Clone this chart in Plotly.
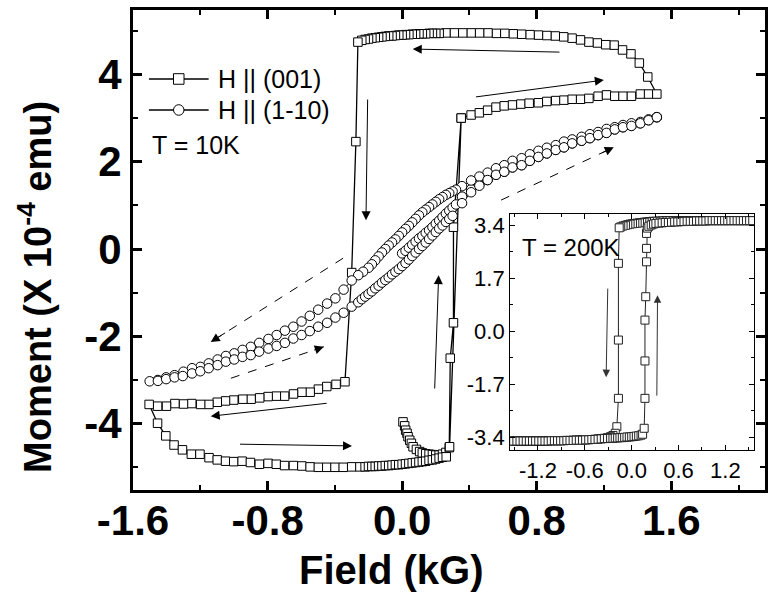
import plotly.graph_objects as go

# ---------------- main panel, T = 10K, H || (001) (squares) ----------------
sq_virgin_x = [0.005, 0.015, 0.021, 0.029, 0.035, 0.045, 0.055, 0.065, 0.085, 0.104, 0.12, 0.14, 0.16, 0.18, 0.20, 0.22, 0.24, 0.26, 0.28, 0.286, 0.305, 0.305]
sq_virgin_y = [-3.96, -4.05, -4.15, -4.22, -4.30, -4.38, -4.45, -4.53, -4.59, -4.64, -4.67, -4.69, -4.70, -4.71, -4.72, -4.72, -4.70, -4.66, -4.55, -2.50, -1.69, 0.50]

sq_mid_up_x = [0.351, 0.410, 0.459, 0.508, 0.558, 0.607, 0.656, 0.706, 0.755, 0.810, 0.860, 0.913, 0.962, 1.011, 1.061, 1.110, 1.165, 1.215, 1.264, 1.313, 1.363, 1.416, 1.465, 1.514]
sq_mid_up_y = [3.00, 3.07, 3.12, 3.18, 3.25, 3.28, 3.30, 3.32, 3.34, 3.35, 3.38, 3.40, 3.41, 3.43, 3.43, 3.45, 3.50, 3.53, 3.50, 3.50, 3.50, 3.55, 3.55, 3.55]

sq_top_x = [1.46, 1.41, 1.36, 1.31, 1.26, 1.21, 1.16, 1.11, 1.06, 1.01, 0.96, 0.91, 0.86, 0.81, 0.76, 0.71, 0.66, 0.61, 0.56, 0.51, 0.46, 0.41, 0.36, 0.31, 0.26,
            0.22, 0.20, 0.18, 0.16, 0.14, 0.12, 0.10, 0.08, 0.06, 0.04, 0.02, 0.00, -0.02, -0.04, -0.06, -0.08, -0.10, -0.12, -0.14, -0.16, -0.18, -0.20, -0.22, -0.24, -0.263]
sq_top_y = [3.94, 4.26, 4.47, 4.56, 4.67, 4.68, 4.72, 4.74, 4.79, 4.83, 4.86, 4.88, 4.89, 4.90, 4.91, 4.92, 4.93, 4.94, 4.94, 4.95, 4.95, 4.95, 4.95, 4.95, 4.95,
            4.94, 4.94, 4.94, 4.94, 4.93, 4.93, 4.93, 4.92, 4.92, 4.91, 4.91, 4.90, 4.90, 4.89, 4.88, 4.88, 4.87, 4.86, 4.85, 4.84, 4.83, 4.81, 4.80, 4.78, 4.74]

sq_down_x = [-0.275, -0.30, -0.34]
sq_down_y = [2.46, -0.54, -3.04]

sq_mid_low_x = [-0.393, -0.448, -0.498, -0.547, -0.596, -0.646, -0.699, -0.748, -0.797, -0.847, -0.898, -0.947, -1.001, -1.050, -1.099, -1.149, -1.198, -1.251, -1.300, -1.351, -1.401, -1.454, -1.504]
sq_mid_low_y = [-3.10, -3.15, -3.21, -3.28, -3.28, -3.32, -3.37, -3.37, -3.38, -3.41, -3.44, -3.44, -3.46, -3.48, -3.51, -3.56, -3.56, -3.54, -3.55, -3.54, -3.60, -3.60, -3.56]

sq_bottom_x = [-1.454, -1.405, -1.356, -1.306, -1.253, -1.202, -1.148, -1.099, -1.050, -1.001, -0.951, -0.902, -0.849, -0.797, -0.748, -0.699, -0.646, -0.596, -0.547, -0.498, -0.448, -0.399, -0.350, -0.300, -0.251,
               -0.22, -0.20, -0.18, -0.16, -0.14, -0.12, -0.10, -0.08, -0.06, -0.04, -0.02, 0.00, 0.02, 0.04, 0.06, 0.08, 0.10, 0.12, 0.14, 0.16, 0.18, 0.20, 0.22, 0.24,
               0.262, 0.282, 0.351]
sq_bottom_y = [-3.99, -4.28, -4.49, -4.60, -4.70, -4.70, -4.78, -4.83, -4.86, -4.87, -4.86, -4.89, -4.93, -4.91, -4.93, -4.96, -4.96, -4.97, -4.99, -5.00, -5.00, -5.00, -5.00, -4.99, -4.99,
               -4.99, -4.98, -4.98, -4.98, -4.97, -4.97, -4.96, -4.96, -4.95, -4.94, -4.94, -4.93, -4.92, -4.91, -4.90, -4.89, -4.88, -4.87, -4.86, -4.84, -4.83, -4.81, -4.79, -4.77,
               -4.76, -4.53, 3.00]

# ---------------- main panel, T = 10K, H || (1-10) (circles) ----------------
ci_virgin_x = [0.00, 0.02, 0.04, 0.06, 0.08, 0.10, 0.12, 0.14, 0.16, 0.18, 0.20, 0.22, 0.24, 0.26, 0.28, 0.30, 0.32, 0.356, 0.410, 0.459]
ci_virgin_y = [-0.10, -0.04, 0.03, 0.10, 0.17, 0.24, 0.30, 0.37, 0.43, 0.50, 0.58, 0.65, 0.73, 0.81, 0.88, 0.95, 1.02, 1.20, 1.37, 1.48]

ci_high_x = [0.508, 0.558, 0.607, 0.656, 0.710, 0.759, 0.810, 0.860, 0.913, 0.962, 1.011, 1.067, 1.116, 1.165, 1.215, 1.264, 1.313, 1.363, 1.416, 1.465, 1.514]
ci_high_y = [1.58, 1.70, 1.77, 1.87, 1.92, 2.02, 2.11, 2.19, 2.27, 2.33, 2.42, 2.48, 2.54, 2.61, 2.66, 2.74, 2.79, 2.82, 2.88, 2.95, 3.02]

ci_desc_x = [1.514, 1.465, 1.416, 1.363, 1.313, 1.264, 1.215, 1.165, 1.116, 1.067, 1.011, 0.962, 0.913, 0.860, 0.810, 0.759, 0.710, 0.656, 0.607, 0.558, 0.508, 0.459, 0.410, 0.356,
             0.32, 0.30, 0.28, 0.26, 0.24, 0.22, 0.20, 0.18, 0.16, 0.14, 0.12, 0.10, 0.08, 0.06, 0.04, 0.02, 0.00, -0.02, -0.04, -0.06, -0.08, -0.10, -0.12, -0.14, -0.16, -0.18, -0.20,
             -0.232, -0.261, -0.300, -0.348, -0.397, -0.446, -0.499, -0.549, -0.598, -0.647, -0.697, -0.746, -0.795, -0.850, -0.900, -0.949, -0.998, -1.048, -1.097, -1.150, -1.200, -1.249, -1.300, -1.353, -1.403, -1.452, -1.501]
ci_desc_y = [3.02, 2.97, 2.91, 2.88, 2.84, 2.79, 2.75, 2.68, 2.63, 2.57, 2.51, 2.46, 2.38, 2.32, 2.25, 2.17, 2.08, 2.02, 1.92, 1.85, 1.75, 1.66, 1.57, 1.44,
             1.36, 1.32, 1.28, 1.24, 1.19, 1.14, 1.08, 1.02, 0.96, 0.90, 0.84, 0.77, 0.69, 0.61, 0.53, 0.46, 0.38, 0.30, 0.22, 0.15, 0.08, 0.00, -0.08, -0.17, -0.26, -0.35, -0.43,
             -0.52, -0.60, -0.72, -0.93, -1.13, -1.25, -1.39, -1.53, -1.66, -1.78, -1.87, -1.97, -2.06, -2.15, -2.24, -2.31, -2.39, -2.45, -2.53, -2.62, -2.70, -2.73, -2.81, -2.89, -2.94, -3.00, -3.03]

ci_asc_x = [-1.452, -1.403, -1.353, -1.304, -1.249, -1.200, -1.150, -1.097, -1.048, -0.998, -0.949, -0.900, -0.850, -0.795, -0.746, -0.697, -0.647, -0.598, -0.549, -0.499, -0.446, -0.397, -0.348, -0.300, -0.261,
            -0.24, -0.22, -0.20, -0.18, -0.16, -0.14, -0.12, -0.10, -0.08, -0.06, -0.04, -0.02, 0.00, 0.02, 0.04, 0.06, 0.08, 0.10, 0.12, 0.14, 0.16, 0.18, 0.20, 0.22, 0.24, 0.26, 0.28,
            0.30, 0.356, 0.410, 0.459]
ci_asc_y = [-3.02, -2.98, -2.94, -2.91, -2.85, -2.80, -2.73, -2.66, -2.58, -2.53, -2.47, -2.43, -2.35, -2.28, -2.22, -2.15, -2.05, -1.97, -1.88, -1.78, -1.69, -1.57, -1.46, -1.32, -1.22,
            -1.15, -1.09, -1.03, -0.97, -0.90, -0.84, -0.77, -0.71, -0.65, -0.58, -0.52, -0.46, -0.39, -0.32, -0.24, -0.16, -0.08, 0.00, 0.07, 0.15, 0.23, 0.31, 0.39, 0.47, 0.54, 0.62, 0.69,
            0.76, 1.05, 1.30, 1.45]

# ---------------- inset, T = 200K ----------------
ins_desc_x = [1.55, 1.51, 1.47, 1.43, 1.39, 1.35, 1.31, 1.27, 1.23, 1.19, 1.15, 1.11, 1.07, 1.03, 0.99, 0.95, 0.91, 0.87, 0.83, 0.79, 0.75, 0.71, 0.67, 0.63, 0.59, 0.55, 0.51, 0.47, 0.43,
              0.39, 0.35, 0.31, 0.27, 0.23, 0.19,
              0.16, 0.13, 0.10, 0.07, 0.04, 0.01, -0.02, -0.05, -0.08, -0.11, -0.14,
              -0.16, -0.17, -0.17, -0.17, -0.19,
              -0.21, -0.24, -0.27,
              -0.31, -0.35, -0.39, -0.43, -0.47, -0.51, -0.55, -0.59, -0.63, -0.67, -0.71, -0.75, -0.79, -0.83, -0.87, -0.91, -0.95, -0.99, -1.03, -1.07, -1.11, -1.15, -1.19, -1.23, -1.27, -1.31, -1.35, -1.39, -1.43, -1.47, -1.51, -1.55]
ins_desc_y = [3.54, 3.54, 3.54, 3.54, 3.54, 3.54, 3.54, 3.54, 3.54, 3.54, 3.54, 3.54, 3.54, 3.54, 3.54, 3.54, 3.54, 3.54, 3.54, 3.54, 3.54, 3.54, 3.54, 3.54, 3.54, 3.54, 3.54, 3.54, 3.54,
              3.53, 3.53, 3.52, 3.52, 3.51, 3.50,
              3.49, 3.48, 3.47, 3.46, 3.45, 3.44, 3.43, 3.41, 3.39, 3.37, 3.34,
              3.31, 2.17, -0.29, -2.16, -3.07,
              -3.28, -3.35, -3.39,
              -3.42, -3.44, -3.45, -3.46, -3.47, -3.48, -3.48, -3.49, -3.49, -3.50, -3.50, -3.50, -3.51, -3.51, -3.51, -3.52, -3.52, -3.52, -3.52, -3.52, -3.53, -3.53, -3.53, -3.53, -3.53, -3.53, -3.53, -3.53, -3.53, -3.53, -3.53, -3.53]

ins_asc_x = [-1.55, -1.51, -1.47, -1.43, -1.39, -1.35, -1.31, -1.27, -1.23, -1.19, -1.15, -1.11, -1.07, -1.03, -0.99, -0.95, -0.91, -0.87, -0.83, -0.79, -0.75, -0.71, -0.67, -0.63, -0.59, -0.55, -0.51, -0.47, -0.43, -0.39, -0.35, -0.31, -0.27,
             -0.24, -0.21, -0.18, -0.15, -0.12, -0.09, -0.06, -0.03, 0.00, 0.03, 0.06, 0.09, 0.12, 0.14,
             0.16, 0.17, 0.17, 0.17, 0.18, 0.19, 0.19, 0.19, 0.20,
             0.22, 0.25, 0.28,
             0.31, 0.35, 0.39, 0.43, 0.47, 0.51, 0.55, 0.59, 0.63, 0.67, 0.71, 0.75, 0.79, 0.83, 0.87, 0.91, 0.95, 0.99, 1.03, 1.07, 1.11, 1.15, 1.19, 1.23, 1.27, 1.31, 1.35, 1.39, 1.43, 1.47, 1.51, 1.55]
ins_asc_y = [-3.53, -3.53, -3.53, -3.53, -3.53, -3.53, -3.53, -3.53, -3.53, -3.53, -3.53, -3.53, -3.53, -3.52, -3.52, -3.52, -3.52, -3.52, -3.51, -3.51, -3.51, -3.50, -3.50, -3.50, -3.49, -3.49, -3.48, -3.48, -3.47, -3.46, -3.45, -3.45, -3.44,
             -3.44, -3.43, -3.43, -3.42, -3.42, -3.41, -3.40, -3.40, -3.39, -3.38, -3.37, -3.36, -3.34, -3.31,
             -3.12, -2.16, -0.96, 0.35, 1.10, 2.22, 2.65, 3.13, 3.30,
             3.36, 3.40, 3.43,
             3.45, 3.46, 3.47, 3.48, 3.48, 3.49, 3.50, 3.50, 3.51, 3.51, 3.52, 3.52, 3.52, 3.53, 3.53, 3.53, 3.53, 3.54, 3.54, 3.54, 3.54, 3.54, 3.54, 3.54, 3.54, 3.54, 3.54, 3.54, 3.54, 3.54, 3.54, 3.54]

# ---------------- ticks ----------------
x_tick_vals = [-1.6, -0.8, 0.0, 0.8, 1.6]
x_tick_text = ["-1.6", "-0.8", "0.0", "0.8", "1.6"]
x_minor_vals = [-1.2, -0.4, 0.4, 1.2, 2.0]
y_tick_vals = [-4, -2, 0, 2, 4]
y_tick_text = ["-4", "-2", "0", "2", "4"]
y_minor_vals = [-5, -3, -1, 1, 3, 5]
ins_x_tick_vals = [-1.2, -0.6, 0.0, 0.6, 1.2]
ins_x_tick_text = ["-1.2", "-0.6", "0.0", "0.6", "1.2"]
ins_x_minor_vals = [-1.5, -0.9, -0.3, 0.3, 0.9, 1.5]
ins_y_tick_vals = [-3.4, -1.7, 0.0, 1.7, 3.4]
ins_y_tick_text = ["-3.4", "-1.7", "0.0", "1.7", "3.4"]
ins_y_minor_vals = [-2.55, -0.85, 0.85, 2.55]

# arrows: (tail_x, tail_y, head_x, head_y)
solid_arrows = [
    (0.944, 4.51, 0.063, 4.58),
    (0.43, 3.48, 1.199, 3.87),
    (-0.205, 3.46, -0.215, 0.66),
    (0.193, -3.23, 0.217, -0.60),
    (-0.44, -3.53, -1.138, -3.83),
    (-0.973, -4.47, -0.298, -4.51),
]
dashed_arrows = [
    (-0.351, -0.21, -1.138, -2.13),
    (-1.018, -2.96, -0.466, -2.24),
    (0.588, 1.12, 1.258, 2.33),
]
inset_arrows = [
    (-0.306, 1.41, -0.327, -1.48),
    (0.322, -2.12, 0.331, 1.15),
]

FONT = "Liberation Sans, Arial, sans-serif"

sq_x = sq_virgin_x + sq_mid_up_x + sq_top_x + sq_down_x + sq_mid_low_x + sq_bottom_x
sq_y = sq_virgin_y + sq_mid_up_y + sq_top_y + sq_down_y + sq_mid_low_y + sq_bottom_y
ci_x = ci_virgin_x + ci_high_x + ci_desc_x + ci_asc_x + ci_high_x
ci_y = ci_virgin_y + ci_high_y + ci_desc_y + ci_asc_y + ci_high_y
ins_x = ins_desc_x + ins_asc_x
ins_y = ins_desc_y + ins_asc_y

fig = go.Figure()
fig.add_trace(go.Scatter(
    x=sq_x, y=sq_y, mode="lines+markers", name="H || (001)",
    line=dict(color="black", width=1.3),
    marker=dict(symbol="square", size=8.5, color="white", line=dict(color="black", width=1)),
))
fig.add_trace(go.Scatter(
    x=ci_x, y=ci_y, mode="lines+markers", name="H || (1-10)",
    line=dict(color="black", width=1),
    marker=dict(symbol="circle", size=9.5, color="white", line=dict(color="black", width=1)),
))
fig.add_trace(go.Scatter(
    x=ins_x, y=ins_y, mode="lines+markers", name="T = 200K", xaxis="x2", yaxis="y2",
    line=dict(color="#222", width=1),
    marker=dict(symbol="square", size=8, color="white", line=dict(color="#222", width=1)),
))

main_tickfont = dict(family=FONT, size=42, color="black", weight="bold")
fig.update_layout(
    width=768, height=594,
    margin=dict(l=133, r=0, t=10, b=104),
    plot_bgcolor="white", paper_bgcolor="white",
    showlegend=False,
    xaxis=dict(
        range=[-1.6, 2.157], tickmode="array", tickvals=x_tick_vals, ticktext=x_tick_text,
        ticks="inside", ticklen=9, tickwidth=2.5, tickcolor="black", ticklabelstandoff=-8,
        showline=True, linewidth=3, linecolor="black", mirror="ticks",
        showgrid=False, zeroline=False, tickfont=main_tickfont,
        minor=dict(tickmode="array", tickvals=x_minor_vals, ticks="inside", ticklen=5, tickwidth=2, tickcolor="black", showgrid=False),
    ),
    yaxis=dict(
        range=[-5.52, 5.475], tickmode="array", tickvals=y_tick_vals, ticktext=y_tick_text,
        ticks="inside", ticklen=9, tickwidth=2.5, tickcolor="black",
        showline=True, linewidth=3, linecolor="black", mirror="ticks",
        showgrid=False, zeroline=False, tickfont=main_tickfont,
        minor=dict(tickmode="array", tickvals=y_minor_vals, ticks="inside", ticklen=5, tickwidth=2, tickcolor="black", showgrid=False),
    ),
    xaxis2=dict(
        domain=[0.5969, 0.9827], anchor="y2", range=[-1.555, 1.567],
        tickmode="array", tickvals=ins_x_tick_vals, ticktext=ins_x_tick_text,
        ticks="inside", ticklen=5, tickwidth=1, tickcolor="black",
        showline=True, linewidth=1.3, linecolor="black", mirror="ticks",
        showgrid=False, zeroline=False, tickfont=dict(family=FONT, size=22, color="black"),
        minor=dict(tickmode="array", tickvals=ins_x_minor_vals, ticks="inside", ticklen=3, tickwidth=1, tickcolor="black", showgrid=False),
    ),
    yaxis2=dict(
        domain=[0.0833, 0.575], anchor="x2", range=[-3.817, 3.753],
        tickmode="array", tickvals=ins_y_tick_vals, ticktext=ins_y_tick_text,
        ticks="inside", ticklen=5, tickwidth=1, tickcolor="black",
        showline=True, linewidth=1.3, linecolor="black", mirror="ticks",
        showgrid=False, zeroline=False, tickfont=dict(family=FONT, size=22, color="black"),
        minor=dict(tickmode="array", tickvals=ins_y_minor_vals, ticks="inside", ticklen=3, tickwidth=1, tickcolor="black", showgrid=False),
    ),
)

annotations = []
shapes = []
for tx, ty, hx, hy in solid_arrows:
    annotations.append(dict(x=hx, y=hy, ax=tx, ay=ty, xref="x", yref="y", axref="x", ayref="y",
                            showarrow=True, arrowhead=2, arrowsize=1.8, arrowwidth=1, arrowcolor="black", text="", standoff=0))
for tx, ty, hx, hy in dashed_arrows:
    shapes.append(dict(type="line", xref="x", yref="y", x0=tx, y0=ty, x1=hx, y1=hy,
                       line=dict(color="black", width=1, dash="dash")))
    annotations.append(dict(x=hx, y=hy, ax=hx - 0.12 * (hx - tx), ay=hy - 0.12 * (hy - ty), xref="x", yref="y", axref="x", ayref="y",
                            showarrow=True, arrowhead=2, arrowsize=1.8, arrowwidth=1, arrowcolor="black", text="", standoff=0))
for tx, ty, hx, hy in inset_arrows:
    annotations.append(dict(x=hx, y=hy, ax=tx, ay=ty, xref="x2", yref="y2", axref="x2", ayref="y2",
                            showarrow=True, arrowhead=2, arrowsize=1.5, arrowwidth=1, arrowcolor="#333", text="", standoff=0))

# legend (drawn as paper-anchored decorations)
leg_rows = [0.8563, 0.7917]
for row, sym in zip(leg_rows, ["square", "circle"]):
    shapes.append(dict(type="line", xref="paper", yref="paper", x0=0.0252, x1=0.1197, y0=row, y1=row,
                       line=dict(color="black", width=1.3)))
    shapes.append(dict(type="rect" if sym == "square" else "circle", xref="paper", yref="paper",
                       x0=0.0724 - 0.0083, x1=0.0724 + 0.0083, y0=row - 0.011, y1=row + 0.011,
                       fillcolor="white", line=dict(color="black", width=1)))
annotations.append(dict(x=0.1307, y=leg_rows[0], xref="paper", yref="paper", text="H || (001)", showarrow=False,
                        xanchor="left", yanchor="middle", font=dict(family=FONT, size=25, color="black")))
annotations.append(dict(x=0.1307, y=leg_rows[1], xref="paper", yref="paper", text="H || (1-10)", showarrow=False,
                        xanchor="left", yanchor="middle", font=dict(family=FONT, size=25, color="black")))
annotations.append(dict(x=0.0268, y=0.71875, xref="paper", yref="paper", text="T = 10K", showarrow=False,
                        xanchor="left", yanchor="middle", font=dict(family=FONT, size=25, color="black")))
annotations.append(dict(x=0.04, y=0.856, xref="x2 domain", yref="y2 domain", text="T = 200K", showarrow=False,
                        xanchor="left", yanchor="middle", font=dict(family=FONT, size=24, color="black")))
# axis titles
annotations.append(dict(x=0.409, y=-0.1667, xref="paper", yref="paper", text="Field (kG)", showarrow=False,
                        xanchor="center", yanchor="middle", font=dict(family=FONT, size=40, color="black", weight="bold")))
annotations.append(dict(x=-0.1544, y=0.424, xref="paper", yref="paper", text="Moment (X 10<sup>-4</sup> emu)", showarrow=False,
                        textangle=-90, xanchor="center", yanchor="middle", font=dict(family=FONT, size=38, color="black", weight="bold")))

fig.update_layout(annotations=annotations, shapes=shapes)
fig.write_html("out.html", config={"displayModeBar": False},
               post_script="document.body.style.margin='0';document.body.style.overflow='hidden';")
